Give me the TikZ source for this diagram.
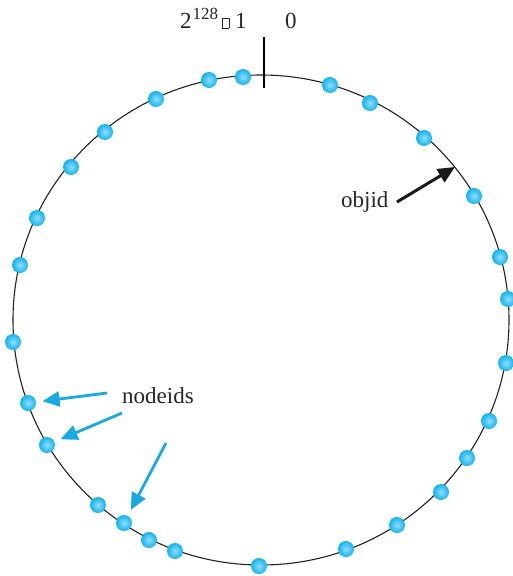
\documentclass[tikz,border=0pt]{standalone}
\usepackage{fontspec}
\setmainfont{Liberation Serif}
\usetikzlibrary{arrows.meta}
\definecolor{dotblue}{HTML}{10B4F0}
\definecolor{arrowblue}{HTML}{17A9E3}
\definecolor{ringgray}{HTML}{222222}
\tikzset{
  dotnode/.style={circle,inner sep=0pt,minimum size=16pt,draw=none,
    inner color=dotblue!45!white,outer color=dotblue},
  lbl/.style={inner sep=0pt,font=\fontsize{23}{27}\selectfont,text=black!85},
  bluearrow/.style={draw=arrowblue,line width=2.8pt,
    -{Triangle[length=17pt,width=15pt]},shorten >=6.5pt},
  blackarrow/.style={draw=black!90,line width=3pt,
    -{Triangle[length=17pt,width=15pt]}},
  ring/.style={draw=ringgray,line width=1.1pt}
}
\begin{document}
\begin{tikzpicture}[x=1pt,y=-1pt]
\useasboundingbox (0,0) rectangle (512,576);
% ring
\draw[ring] (261,320) ellipse [x radius=248, y radius=245];
% zero tick
\coordinate (tickT) at (264,37);
\coordinate (tickB) at (264,88);
\draw[line width=1.1pt,black] (tickT) -- (tickB);
% labels
\node[lbl,anchor=base west] (maxlbl) at (180,28) {2\kern1pt\raisebox{9pt}{\fontsize{17}{18}\selectfont 128}\kern4pt{\setlength\fboxsep{0pt}\setlength\fboxrule{0.5pt}\fbox{\rule{0pt}{10pt}\hspace{6pt}}}\kern6pt1};
\node[lbl,anchor=base west] (zerolbl) at (285,28) {0};
\node[lbl,anchor=base west] (objlbl) at (341,207) {objid};
\node[lbl,anchor=base west] (nodelbl) at (122,403) {nodeids};
% dots
\foreach \n/\x/\y in {
  a/209/80, b/243/77, c/330/85, d/370/103, e/424/138, f/474/196, g/500/257,
  h/508/299, i/506/363, j/489/421, k/467/458, l/441/492, m/397/525,
  n/346/549, o/259/566, p/175/551, q/149/540, r/124/523, s/98/505,
  t/47/445, u/28/403, v/13/342, w/20/265, x/37/218, y/71/167, z/105/132,
  aa/156/99}{
  \node[dotnode] (dot\n) at (\x,\y) {};
}
% objid arrow
\coordinate (objtail) at (397,202);
\coordinate (objtip) at (455,167);
\draw[blackarrow] (objtail) -- (objtip);
% nodeid arrows
\coordinate (nt1) at (107,393);
\coordinate (nt2) at (122,413);
\coordinate (nt3) at (166,443);
\draw[bluearrow] (nt1) -- (dotu);
\draw[bluearrow] (nt2) -- (dott);
\draw[bluearrow] (nt3) -- (dotr);
\end{tikzpicture}
\end{document}
